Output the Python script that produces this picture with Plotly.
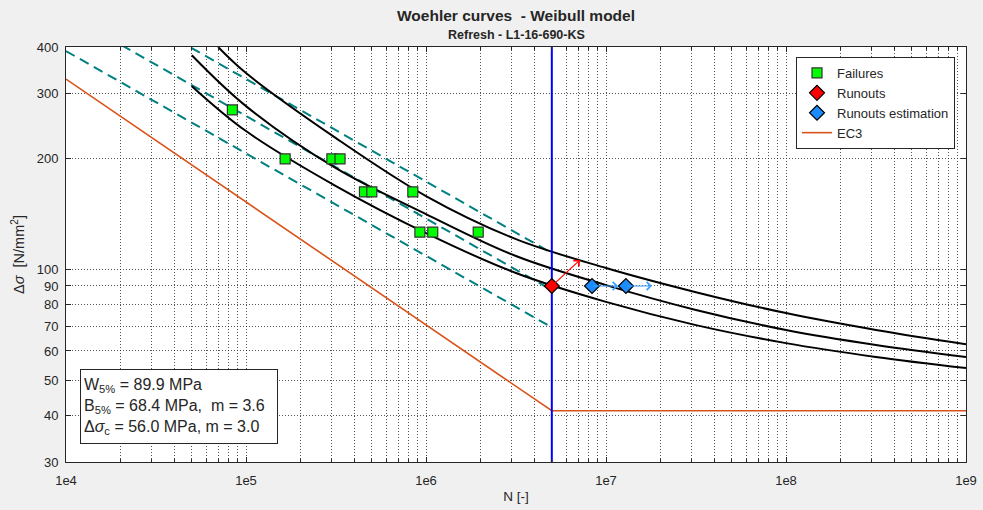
import numpy as np
import plotly.graph_objects as go

# ---- test data -------------------------------------------------------------
fail_N = [8.4e4, 1.65e5, 3.0e5, 3.33e5, 4.55e5, 5.0e5, 8.45e5, 9.25e5, 1.09e6, 1.95e6]
fail_S = [270, 199, 199, 199, 162, 162, 162, 126, 126, 126]

runout_N = [5.0e6]
runout_S = [90]
runout_arrow_N = [7.17e6]
runout_arrow_S = [105.9]

est_N = [8.36e6, 1.29e7]
est_S = [90, 90]
est_arrow_N = [1.166e7, 1.80e7]

# ---- Weibull model curves (upper / median / lower) --------------------------
upper_N = [7.0e4, 1e5, 3.16e5, 1e6, 3.16e6, 1e7, 3.16e7, 1e8, 3.16e8, 1e9]
upper_S = [400, 340, 226.5, 157.8, 120.6, 100.7, 86.6, 76.0, 68.4, 62.6]
middle_N = [5.0e4, 1e5, 3.16e5, 1e6, 3.16e6, 1e7, 3.16e7, 1e8, 3.16e8, 1e9]
middle_S = [380, 276.6, 187.8, 141.0, 108.5, 90.5, 77.5, 68.4, 62.3, 57.8]
lower_N = [5.0e4, 1e5, 3.16e5, 1e6, 3.16e6, 1e7, 3.16e7, 1e8, 3.16e8, 1e9]
lower_S = [313.3, 236.7, 167.9, 125.2, 97.6, 81.5, 70.5, 63.0, 57.8, 53.9]

# ---- Basquin lines (m = 3.6) -------------------------------------------------
basquin_N = [1e4, 5e6]
basquin_hi_S = [621, 110.5]
basquin_mid_S = [493, 87.7]
basquin_lo_S = [390, 69.5]

# ---- EC3 detail category ----------------------------------------------------
ec3_N = [1e4, 5e6, 1e9]
ec3_S = [327.5, 41.3, 41.3]

limit_N = 5e6

x_ticks = [1e4, 1e5, 1e6, 1e7, 1e8, 1e9]
x_labels = ["1e4", "1e5", "1e6", "1e7", "1e8", "1e9"]
y_ticks = [30, 40, 50, 60, 70, 80, 90, 100, 200, 300, 400]

FONT = "Liberation Sans, Arial, Helvetica, sans-serif"
TXT = "#262626"
GRID = "rgba(30,30,30,0.75)"

fig = go.Figure()

fig.add_trace(go.Scatter(x=ec3_N, y=ec3_S, mode="lines", name="EC3",
                         line=dict(color="#d95319", width=1.6), showlegend=False))

for s in (basquin_hi_S, basquin_mid_S, basquin_lo_S):
    fig.add_trace(go.Scatter(x=basquin_N, y=s, mode="lines", showlegend=False,
                             line=dict(color="#008080", width=2, dash="10px,6px")))

for n, s in ((upper_N, upper_S), (middle_N, middle_S), (lower_N, lower_S)):
    fig.add_trace(go.Scatter(x=n, y=s, mode="lines", showlegend=False,
                             line=dict(color="black", width=2, shape="spline", smoothing=1.0)))

fig.add_trace(go.Scatter(x=[limit_N, limit_N], y=[30, 400], mode="lines", showlegend=False,
                         line=dict(color="#0000ff", width=2)))

fig.add_trace(go.Scatter(x=fail_N, y=fail_S, mode="markers", name="Failures",
                         marker=dict(symbol="square", size=10, color="#00ff00",
                                     line=dict(color="#333333", width=1.2))))
fig.add_trace(go.Scatter(x=runout_N, y=runout_S, mode="markers", name="Runouts",
                         marker=dict(symbol="diamond", size=11.5, color="#ff0000",
                                     line=dict(color="#000000", width=1.2))))
fig.add_trace(go.Scatter(x=est_N, y=est_S, mode="markers", name="Runouts estimation",
                         marker=dict(symbol="diamond", size=11.5, color="#1a8cff",
                                     line=dict(color="#000000", width=1.2))))
# legend entry for EC3 (drawn above as the first trace)
fig.add_trace(go.Scatter(x=[None], y=[None], mode="lines", name="EC3",
                         line=dict(color="#d95319", width=1.6)))

annotations = []
# runout direction arrows
for n0, s0, n1, s1 in zip(runout_N, runout_S, runout_arrow_N, runout_arrow_S):
    annotations.append(dict(x=np.log10(n1), y=np.log10(s1), ax=np.log10(n0), ay=np.log10(s0),
                            xref="x", yref="y", axref="x", ayref="y", text="",
                            showarrow=True, arrowhead=4, arrowsize=1.3, arrowwidth=1.2,
                            arrowcolor="#ff0000"))
for n0, s0, n1 in zip(est_N, est_S, est_arrow_N):
    annotations.append(dict(x=np.log10(n1), y=np.log10(s0), ax=np.log10(n0), ay=np.log10(s0),
                            xref="x", yref="y", axref="x", ayref="y", text="",
                            showarrow=True, arrowhead=4, arrowsize=1.3, arrowwidth=1.2,
                            arrowcolor="#3aa0ff"))

annotations += [
    dict(text="<b>Woehler curves  - Weibull model</b>", x=0.5, y=1 + (47 - 15) / 415,
         xref="paper", yref="paper", yanchor="middle", showarrow=False,
         font=dict(family=FONT, size=15.5, color=TXT)),
    dict(text="<b>Refresh - L1-16-690-KS</b>", x=0.5, y=1 + (47 - 35) / 415,
         xref="paper", yref="paper", yanchor="middle", showarrow=False,
         font=dict(family=FONT, size=12.5, color=TXT)),
    dict(text="W<sub>5%</sub> = 89.9 MPa<br>B<sub>5%</sub> = 68.4 MPa,  m = 3.6<br>"
              "Δ<i>σ</i><sub>c</sub> = 56.0 MPa, m = 3.0",
         x=(80 - 66) / 900, y=(462 - 444) / 415, xref="paper", yref="paper",
         xanchor="left", yanchor="bottom", align="left", showarrow=False,
         width=190, height=67,
         bgcolor="white", bordercolor="#262626", borderwidth=1, borderpad=3,
         font=dict(family=FONT, size=16, color=TXT)),
]

axis_common = dict(showline=True, linecolor=TXT, linewidth=1, mirror="ticks",
                   ticks="inside", ticklen=5, tickcolor=TXT, automargin=False,
                   showgrid=True, gridcolor=GRID, gridwidth=1, griddash="1px,2px",
                   zeroline=False, tickfont=dict(family=FONT, size=13, color=TXT))

minor_x = [m * 10 ** d for d in range(4, 9) for m in range(2, 10)]

fig.update_layout(
    width=983, height=510,
    margin=dict(l=66, r=17, t=47, b=48, autoexpand=False),
    paper_bgcolor="#f0f0f0", plot_bgcolor="white",
    font=dict(family=FONT, color=TXT),
    xaxis=dict(type="log", range=[4, 9], tickvals=x_ticks, ticktext=x_labels,
               ticklabelstandoff=6,
               title=dict(text="N [-]", font=dict(family=FONT, size=13.5, color=TXT), standoff=4),
               minor=dict(tickvals=minor_x, ticks="inside", ticklen=3, tickcolor=TXT,
                          showgrid=True, gridcolor=GRID, gridwidth=1, griddash="1px,2px"),
               **axis_common),
    yaxis=dict(type="log", range=[np.log10(30), np.log10(400)], tickvals=y_ticks,
               ticktext=[str(v) for v in y_ticks], ticklabelstandoff=4,
               title=dict(text="Δ<i>σ</i>  [N/mm<sup>2</sup>]",
                          font=dict(family=FONT, size=14.5, color=TXT), standoff=8),
               **axis_common),
    legend=dict(x=(955 - 66) / 900, y=(462 - 57) / 415, xanchor="right", yanchor="top",
                bgcolor="white", bordercolor="#262626", borderwidth=1,
                font=dict(family=FONT, size=13, color=TXT), tracegroupgap=0),
    annotations=annotations,
)

fig.write_html("out.html")
